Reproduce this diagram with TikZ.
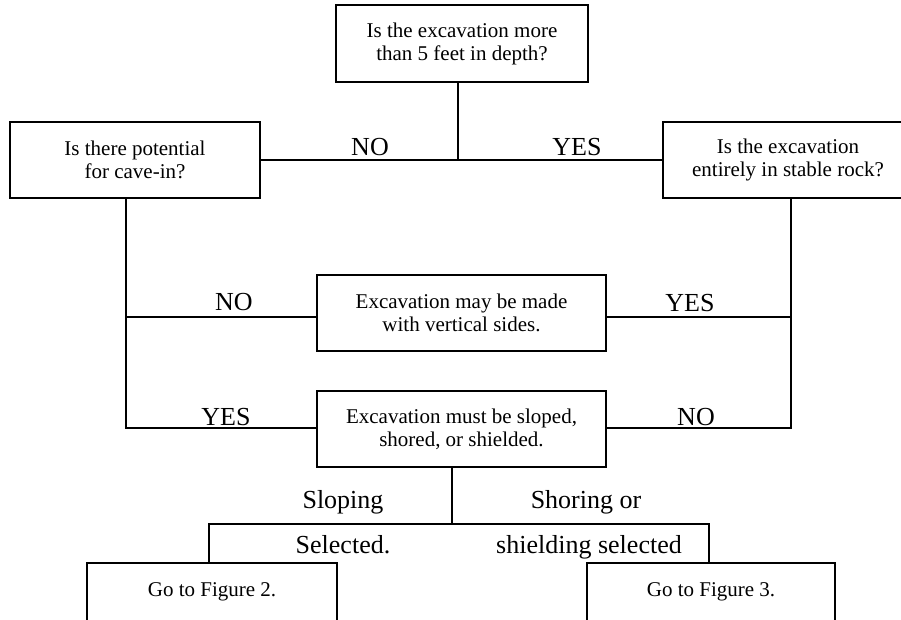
\documentclass[tikz,border=0pt]{standalone}
\usepackage{fontspec}
\setmainfont{Liberation Serif}
\tikzset{
  box/.style={draw, line width=1.5pt, align=center, inner sep=0pt,
    font=\fontsize{21}{23}\selectfont},
  lab/.style={anchor=base, inner sep=0pt, font=\fontsize{26}{28}\selectfont},
  conn/.style={line width=1.5pt}
}
\begin{document}
\begin{tikzpicture}[x=1pt,y=-1pt]
\useasboundingbox (0,0) rectangle (901,620);
\clip (0,0) rectangle (901,620);
\fill[white] (0,0) rectangle (901,620);
% boxes
\node[box, minimum width=252pt, minimum height=77pt] (top) at (462,43.5) {Is the excavation more\\than 5 feet in depth?};
\node[box, minimum width=250pt, minimum height=76pt] (left) at (135,160) {Is there potential\\for cave-in?};
\node[box, minimum width=250pt, minimum height=76pt] (right) at (788,160) {Is the excavation\\entirely in stable rock?};
\node[box, minimum width=289pt, minimum height=76pt] (mid) at (461.5,313) {Excavation may be made\\with vertical sides.};
\node[box, minimum width=289pt, minimum height=76pt] (lower) at (461.5,429) {Excavation must be sloped,\\shored, or shielded.};
\node[box, minimum width=250pt, minimum height=58pt] (bl) at (212,592) {Go to Figure 2.};
\node[box, minimum width=248pt, minimum height=58pt] (br) at (711,592) {Go to Figure 3.};
% junction coordinates
\coordinate (j1) at (458,160);
\coordinate (lA) at (126,317);
\coordinate (lB) at (126,428);
\coordinate (rA) at (791,317);
\coordinate (rB) at (791,428);
\coordinate (bj) at (452,524);
\coordinate (bL) at (209,524);
\coordinate (bR) at (709,524);
% connectors
\draw[conn] (top.south -| j1) -- (j1);
\draw[conn] (left.east) -- (right.west);
\draw[conn] (left.south -| lB) -- (lB) -- (lower.west |- lB);
\draw[conn] (lA) -- (mid.west |- lA);
\draw[conn] (right.south -| rB) -- (rB) -- (lower.east |- rB);
\draw[conn] (rA) -- (mid.east |- rA);
\draw[conn] (lower.south -| bj) -- (bj);
\draw[conn] (bl.north -| bL) -- (bL) -- (bR) -- (br.north -| bR);
% labels
\node[lab] (l1) at (370,156) {NO};
\node[lab] (l2) at (577,156) {YES};
\node[lab] (l3) at (234,310) {NO};
\node[lab] (l4) at (690,311) {YES};
\node[lab] (l5) at (226,425) {YES};
\node[lab] (l6) at (696,425) {NO};
\node[lab] (l7) at (343,508) {Sloping};
\node[lab] (l8) at (343,553) {Selected.};
\node[lab] (l9) at (586,508) {Shoring or};
\node[lab] (l10) at (589,553) {shielding selected};
\end{tikzpicture}
\end{document}
